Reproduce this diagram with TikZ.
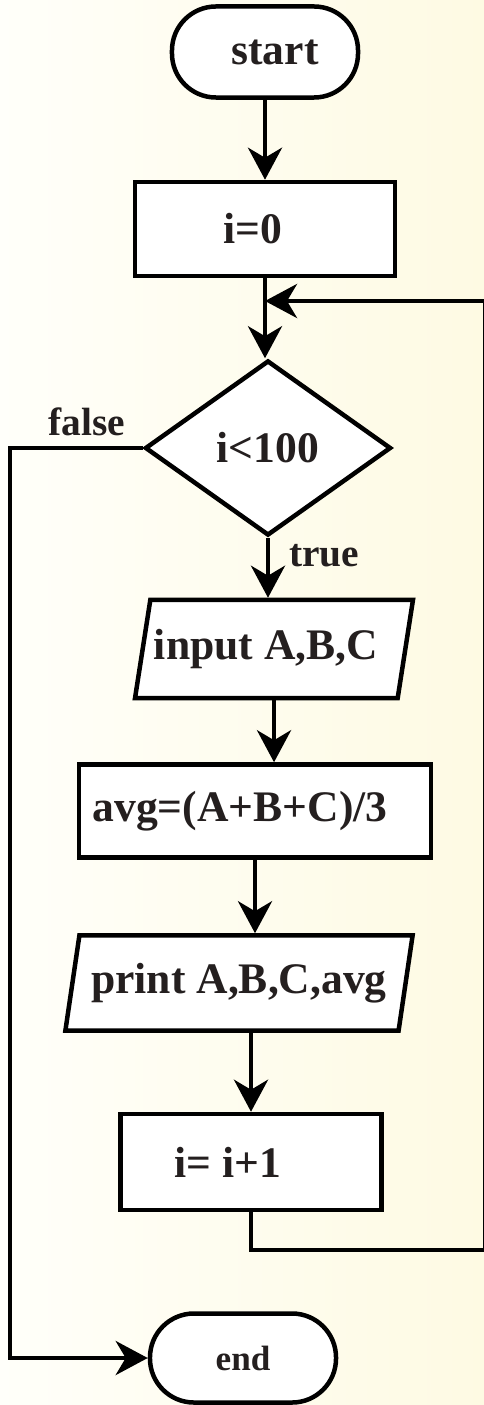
\documentclass[tikz,border=0pt]{standalone}
\usepackage{fontspec}
\setmainfont{Liberation Serif}
\usetikzlibrary{arrows.meta,calc,shapes.geometric}
\definecolor{BgLeft}{rgb}{1,1,0.98}
\definecolor{BgRight}{rgb}{0.995,0.98,0.89}
\definecolor{InkClr}{rgb}{0.14,0.12,0.12}

\begin{document}
\begin{tikzpicture}[x=0.025cm,y=-0.025cm,line width=3.2pt,
  flow/.style={-{Stealth[length=0.8cm,width=0.85cm,inset=0.25cm]}},
  shp/.style={draw,fill=white,inner sep=0pt,text=InkClr,font=\fontsize{31}{36}\selectfont\bfseries},
  terminal/.style={shp,rectangle,rounded corners=1.1cm},
  process/.style={shp,rectangle},
  decision/.style={shp,diamond},
  io/.style={shp,trapezium,trapezium left angle=72,trapezium right angle=108,trapezium stretches=true},
  lbl/.style={text=InkClr,font=\fontsize{28}{32}\selectfont\bfseries}]

\fill[left color=BgLeft,right color=BgRight] (0,0) rectangle (484,1405);
\useasboundingbox (0,0) rectangle (484,1405);

\node[terminal,minimum width=4.65cm,minimum height=2.275cm] (start) at (265,52) {\hspace*{0.5cm}start};
\node[process,minimum width=6.5cm,minimum height=2.35cm] (init) at (265,229) {\hspace*{-0.6cm}i=0};
\node[decision,minimum width=6.15cm,minimum height=4.375cm] (cond) at (268,448) {i<100};
\node[io,minimum width=6.95cm,minimum height=2.45cm] (inp) at (274,649) {\hspace*{-0.4cm}input A,B,C};
\node[process,minimum width=8.8cm,minimum height=2.325cm] (avg) at (255,811) {\hspace*{-0.75cm}avg=(A+B+C)/3};
\node[io,minimum width=8.7cm,minimum height=2.375cm] (prt) at (239,983) {print A,B,C,avg};
\node[process,minimum width=6.525cm,minimum height=2.4cm] (inc) at (251,1162) {\hspace*{-1.15cm}i= i+1};
\node[terminal,minimum width=4.65cm,minimum height=2.225cm,font=\fontsize{25}{29}\selectfont\bfseries] (end) at (243,1358) {end};

\node[lbl] (no) at (87,422) {false};

\coordinate (merge) at (265,301);
\coordinate (loopR) at (485,1250);
\coordinate (loopT) at (485,301);
\coordinate (fcorner) at (10,1358);

\draw[flow] (start) -- (init);
\draw[flow] (init.south) -- (init.south |- cond.north);
\draw[flow] (cond.south) -- (cond.south |- inp.north) node[lbl,pos=0.3,right=10pt] (yes) {true};
\draw[flow] (inp.south) -- (inp.south |- avg.north);
\draw[flow] (avg.south) -- (avg.south |- prt.north);
\draw[flow] (inc.north |- prt.south) -- (inc.north);

\draw[flow] (inc.south) |- (loopR) -- (loopT) -- (merge);
\draw[flow] (cond.west) -| (fcorner) -- (end.west);

\end{tikzpicture}
\end{document}
